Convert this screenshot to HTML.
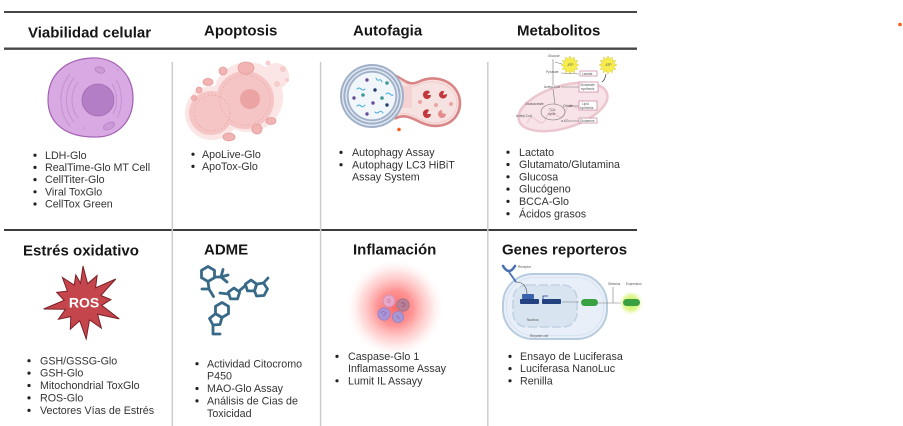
<!DOCTYPE html>
<html>
<head>
<meta charset="utf-8">
<style>
  html,body{margin:0;padding:0;background:#fff;}
  body{width:903px;height:426px;overflow:hidden;position:relative;}
  svg{position:absolute;left:0;top:0;}
  .h{font-family:"Liberation Sans",Arial,sans-serif;font-weight:bold;font-size:15px;fill:#161616;}
  .l{font-family:"Liberation Sans",Arial,sans-serif;font-size:10.7px;fill:#333;}
  .tiny{font-family:"Liberation Sans",Arial,sans-serif;font-size:3.2px;fill:#555;}
</style>
</head>
<body>
<svg width="903" height="426" viewBox="0 0 903 426" xmlns="http://www.w3.org/2000/svg">
  <defs>
    <radialGradient id="glow" cx="0.5" cy="0.5" r="0.5">
      <stop offset="0" stop-color="#ff5a5a" stop-opacity="0.9"/>
      <stop offset="0.35" stop-color="#ff7070" stop-opacity="0.75"/>
      <stop offset="0.7" stop-color="#ffa0a0" stop-opacity="0.35"/>
      <stop offset="1" stop-color="#ffffff" stop-opacity="0"/>
    </radialGradient>
    <radialGradient id="gglow" cx="0.5" cy="0.5" r="0.5">
      <stop offset="0" stop-color="#b8f040" stop-opacity="1"/>
      <stop offset="0.6" stop-color="#d6f570" stop-opacity="0.7"/>
      <stop offset="1" stop-color="#ffffff" stop-opacity="0"/>
    </radialGradient>
  </defs>

  <!-- grid lines -->
  <line x1="4" y1="12" x2="637" y2="12" stroke="#474747" stroke-width="2"/>
  <line x1="4" y1="48.7" x2="637" y2="48.7" stroke="#474747" stroke-width="2.3"/>
  <line x1="4" y1="230" x2="637" y2="230" stroke="#3c3c3c" stroke-width="2"/>
  <line x1="172.3" y1="62" x2="172.3" y2="426" stroke="#cccccc" stroke-width="1.5"/>
  <line x1="320.6" y1="62" x2="320.6" y2="426" stroke="#cccccc" stroke-width="1.5"/>
  <line x1="487.8" y1="62" x2="487.8" y2="426" stroke="#cccccc" stroke-width="1.5"/>

  <circle cx="900" cy="24.5" r="1.8" fill="#ff5b1a"/>

  <!-- headers -->
  <text class="h" x="28" y="37.3">Viabilidad celular</text>
  <text class="h" x="204" y="35.6">Apoptosis</text>
  <text class="h" x="353" y="35.6">Autofagia</text>
  <text class="h" x="517" y="35.6">Metabolitos</text>
  <text class="h" x="23" y="255.6">Estrés oxidativo</text>
  <text class="h" x="204" y="254.3">ADME</text>
  <text class="h" x="353" y="254.3">Inflamación</text>
  <text class="h" x="502" y="254.6">Genes reporteros</text>

  <!-- ===== Viability cell ===== -->
  <path d="M92,58 C116,57 133,75 133,98 C133,122 117,138 94,137 C68,137 48,125 48,100 C48,74 66,59 92,58 Z" fill="#d8a9e2" stroke="#a463b3" stroke-width="1.2"/>
  <g fill="none" stroke="#c592d1" stroke-width="1">
    <path d="M78,82 C70,92 70,108 78,118"/>
    <path d="M74,78 C64,90 64,110 74,122"/>
    <path d="M70,74 C58,88 58,112 70,126"/>
    <path d="M112,84 C118,92 118,106 113,114"/>
    <path d="M116,80 C123,90 123,108 117,118"/>
  </g>
  <ellipse cx="100" cy="70" rx="5" ry="3" fill="#cc9ad6" stroke="#b27fc1" stroke-width="0.7" transform="rotate(15 100 70)"/>
  <ellipse cx="109" cy="126" rx="6" ry="3.2" fill="#cc9ad6" stroke="#b27fc1" stroke-width="0.7" transform="rotate(-25 109 126)"/>
  <circle cx="98" cy="100" r="16" fill="#b37ec6" stroke="#a16db5" stroke-width="0.8"/>
  <circle cx="60" cy="96" r="0.9" fill="#c496cf"/>
  <circle cx="118" cy="70" r="0.9" fill="#c496cf"/>
  <circle cx="84" cy="128" r="0.9" fill="#c496cf"/>

  <!-- ===== Apoptosis ===== -->
  <g>
    <circle cx="248" cy="97" r="35" fill="#fbe5e5"/>
    <circle cx="212" cy="113" r="27" fill="#fbe5e5"/>
    <circle cx="276" cy="76" r="13" fill="#fbe5e5"/>
    <circle cx="245" cy="100" r="29" fill="#f5c4c4"/>
    <circle cx="211" cy="113" r="22" fill="#f5c4c4"/>
    <circle cx="245" cy="100" r="25" fill="none" stroke="#e7a2a2" stroke-width="0.7" stroke-dasharray="1.5 2"/>
    <circle cx="212" cy="113" r="18" fill="none" stroke="#e7a2a2" stroke-width="0.7" stroke-dasharray="1.5 2"/>
    <circle cx="250" cy="99" r="10" fill="#eca3a3"/>
    <g fill="#f2b3b3" stroke="#e59c9c" stroke-width="0.8">
      <ellipse cx="246" cy="68" rx="8" ry="6"/>
      <circle cx="223" cy="71" r="4"/>
      <ellipse cx="208" cy="82" rx="5" ry="3.6"/>
      <circle cx="199" cy="90" r="3"/>
      <ellipse cx="229" cy="137" rx="6" ry="4"/>
      <circle cx="257" cy="129" r="5"/>
      <ellipse cx="271" cy="121" rx="5" ry="3.5"/>
      <circle cx="194" cy="98" r="2.5"/>
    </g>
    <g fill="#f6cccc">
      <circle cx="277" cy="84" r="3"/>
      <circle cx="283" cy="69" r="3"/>
      <circle cx="268" cy="63" r="2.5"/>
      <circle cx="287" cy="80" r="2"/>
    </g>
  </g>

  <!-- ===== Autophagy ===== -->
  <g>
    <path d="M396,76 C404,80 410,86 418,82 C438,72 460,84 460,103 C460,122 440,132 420,122 C412,118 405,114 396,118 Z" fill="#f7e2e2" stroke="#d98585" stroke-width="2.6"/>
    <path d="M399,79 C406,83 411,89 418,85 C436,76 457,87 457,103 C457,119 439,129 420,119 C412,115 405,111 399,115" fill="none" stroke="#f3caca" stroke-width="1"/>
    <rect x="396" y="86" width="16" height="22" fill="#f5d3d3"/>
    <circle cx="372" cy="96" r="32" fill="#9fb0c8"/>
    <circle cx="372" cy="96" r="30" fill="#e2e9f2"/>
    <circle cx="372" cy="96" r="28.6" fill="#9fb0c8"/>
    <circle cx="372" cy="96" r="26.6" fill="#e2e9f2"/>
    <circle cx="372" cy="96" r="25.2" fill="#9fb0c8"/>
    <circle cx="372" cy="96" r="23.4" fill="#f1f6fb"/>
    <g fill="#6a4b99">
      <circle cx="367" cy="80" r="1.7"/><circle cx="354" cy="98" r="1.7"/>
      <circle cx="373" cy="103" r="1.7"/><circle cx="367" cy="114" r="1.7"/>
    </g>
    <g fill="#3c9a93">
      <circle cx="387" cy="83" r="1.8"/><circle cx="363" cy="95" r="1.8"/><circle cx="382" cy="98" r="1.8"/>
    </g>
    <g fill="#1f3f6d">
      <circle cx="375" cy="90" r="1.7"/><circle cx="387" cy="105" r="1.7"/>
    </g>
    <g fill="none" stroke="#3aa7d6" stroke-width="0.9" stroke-linecap="round">
      <path d="M357,89 q2,-2 4,0 t4,0"/>
      <path d="M376,78 q1,3 3,2 t3,2"/>
      <path d="M386,94 q2,-2 4,0 t3,1"/>
      <path d="M357,106 q2,-2 4,0 t4,-1"/>
      <path d="M375,112 q2,2 4,0 t4,1"/>
    </g>
    <g fill="#c1393c">
      <path d="M427,95 m-4,0 a4,4 0 1,0 8,0 l-4,0 l3,-3 a4,4 0 0,0 -7,3 Z"/>
      <path d="M443,95 m-4,0 a4,4 0 1,0 8,-1 l-4,1 l1,-4 a4,4 0 0,0 -5,4 Z"/>
      <path d="M427,114 m-4,0 a4,4 0 1,0 8,0 l-4,0 l2,-4 a4,4 0 0,0 -6,4 Z"/>
      <path d="M442,114 m-4,0 a4,4 0 1,0 8,0 l-4,-1 l0,-3 a4,4 0 0,0 -4,4 Z" fill="#e48d8d"/>
    </g>
    <g fill="#eaa4a4">
      <circle cx="420" cy="102" r="2"/><circle cx="436" cy="105" r="2"/><circle cx="451" cy="104" r="2"/>
    </g>
    <circle cx="399" cy="129.5" r="1.8" fill="#ff5a1a"/>
  </g>

  <!-- ===== Metabolites ===== -->
  <g>
    <ellipse cx="563" cy="107" rx="46" ry="21" transform="rotate(-17 563 107)" fill="#f7e3e8" stroke="#ecc6cf" stroke-width="2.5"/>
    <path d="M524,112 q6,-8 10,0 t10,0 t10,0 t10,0 t10,-2 t10,-4" fill="none" stroke="#efcdd5" stroke-width="1.5" transform="rotate(-17 563 107)"/>
    <g transform="translate(570,65)">
      <polygon points="0,-9 1.55,-5.8 4.5,-7.79 4.24,-4.24 7.79,-4.5 5.8,-1.55 9,0 5.8,1.55 7.79,4.5 4.24,4.24 4.5,7.79 1.55,5.8 0,9 -1.55,5.8 -4.5,7.79 -4.24,4.24 -7.79,4.5 -5.8,1.55 -9,0 -5.8,-1.55 -7.79,-4.5 -4.24,-4.24 -4.5,-7.79 -1.55,-5.8" fill="#f6ec4c" stroke="#d9c92a" stroke-width="0.5"/>
      <text class="tiny" x="-2.5" y="1">ATP</text>
    </g>
    <g transform="translate(608,65)">
      <polygon points="0,-9 1.55,-5.8 4.5,-7.79 4.24,-4.24 7.79,-4.5 5.8,-1.55 9,0 5.8,1.55 7.79,4.5 4.24,4.24 4.5,7.79 1.55,5.8 0,9 -1.55,5.8 -4.5,7.79 -4.24,4.24 -7.79,4.5 -5.8,1.55 -9,0 -5.8,-1.55 -7.79,-4.5 -4.24,-4.24 -4.5,-7.79 -1.55,-5.8" fill="#f6ec4c" stroke="#d9c92a" stroke-width="0.5"/>
      <text class="tiny" x="-2.5" y="1">ATP</text>
    </g>
    <path d="M606,74 q-1,6 -4,8" fill="none" stroke="#555" stroke-width="0.8"/>
    <g stroke="#777" stroke-width="0.6" fill="none">
      <line x1="553" y1="59" x2="553" y2="85"/>
      <line x1="555" y1="62" x2="562" y2="64"/>
      <line x1="561" y1="73" x2="579" y2="74"/>
      <line x1="561" y1="87" x2="579" y2="87"/>
      <line x1="569" y1="106" x2="579" y2="106"/>
      <line x1="579" y1="121" x2="568" y2="121"/>
      <ellipse cx="553" cy="112" rx="12" ry="8"/>
      <line x1="553" y1="89" x2="555" y2="104"/>
    </g>
    <g fill="#fff" stroke="#c9809c" stroke-width="0.7">
      <rect x="580" y="71" width="17" height="5"/>
      <rect x="579" y="82" width="19" height="10"/>
      <rect x="579" y="101" width="18" height="9"/>
      <rect x="579" y="118" width="18" height="5"/>
    </g>
    <text class="tiny" x="548" y="57">Glucose</text>
    <text class="tiny" x="546" y="73">Pyruvate</text>
    <text class="tiny" x="544" y="88">Acetyl-CoA</text>
    <text class="tiny" x="525" y="105">Oxaloacetate</text>
    <text class="tiny" x="563" y="107">Citrate</text>
    <text class="tiny" x="549" y="111">TCA</text>
    <text class="tiny" x="548" y="115">cycle</text>
    <text class="tiny" x="516" y="117">Acetyl-CoA</text>
    <text class="tiny" x="561" y="122">α-KG</text>
    <text class="tiny" x="582" y="75">Lactate</text>
    <text class="tiny" x="580" y="86">Glutamate</text>
    <text class="tiny" x="581" y="90">synthesis</text>
    <text class="tiny" x="582" y="105">Lipid</text>
    <text class="tiny" x="580" y="109">synthesis</text>
    <text class="tiny" x="580" y="122">Glutamine</text>
  </g>

  <!-- ===== ROS ===== -->
  <polygon points="83,266 87.6,283.6 97.1,275.5 95.6,287.8 115.8,279 100.9,295.5 110.9,299.6 101.7,305.3 119.3,318.9 97.6,314.2 101.4,328.2 89.5,319.9 86.2,338.9 79.7,320.7 70.3,329.2 70.8,316.6 58.4,319.2 65.4,309.3 43.6,309 64.1,300.3 56.7,292.4 67.4,291.1 62.4,277.5 74.2,285.1 75.8,274.9 80.5,283.2" fill="#c4454b" stroke="#7a2026" stroke-width="1"/>
  <text x="84" y="307.5" text-anchor="middle" font-family="Liberation Sans, Arial, sans-serif" font-weight="bold" font-size="14" fill="#fff">ROS</text>

  <!-- ===== ADME molecules ===== -->
  <g fill="none" stroke="#386a88" stroke-width="2.8" stroke-linecap="round" stroke-linejoin="round">
    <polygon points="208,266.5 214.5,270.3 214.5,277.7 208,281.5 201.5,277.7 201.5,270.3"/>
    <path d="M214.5,277 L221,277 M221,277 L223,269.5 M221,277 L227,282 M221,277 L228,275"/>
    <path d="M208,281.5 L209,289 L202,289 M209,289 L213.5,296.5"/>
    <path d="M220,293 L228,294"/>
    <polygon points="234,288 239.7,292.1 237.5,298.9 230.5,298.9 228.3,292.1"/>
    <path d="M239,291 L245.5,285.5"/>
    <polygon points="251,280 256.7,284.1 254.5,290.9 247.5,290.9 245.3,284.1"/>
    <polygon points="256.7,284.1 263.5,283 267.5,289 264,295.5 256.5,296 254.5,290.9"/>
    <path d="M263.5,283 L268,278"/>
    <polygon points="222,302.5 228.5,306.3 228.5,313.7 222,317.5 215.5,313.7 215.5,306.3"/>
    <polygon points="215.5,313.7 222,317.5 220,324.5 213,325 209.5,318.5"/>
    <path d="M213,325 L213,334 L220,334"/>
  </g>

  <!-- ===== Inflammation ===== -->
  <circle cx="395" cy="308" r="50" fill="url(#glow)"/>
  <g stroke-width="0.8">
    <circle cx="389" cy="301" r="6" fill="#e7a7c8" stroke="#d08fb3"/>
    <circle cx="403" cy="305" r="6.2" fill="#b88098" stroke="#9f6c84"/>
    <circle cx="384" cy="314" r="6.2" fill="#ab94d6" stroke="#9680c4"/>
    <circle cx="398" cy="317" r="5.6" fill="#a997d4" stroke="#9682c2"/>
    <path d="M387,299 q3,0 3,3 q-2,1 -3,-1" fill="none" stroke="#c77aa0"/>
    <path d="M401,303 q3,-1 4,2 q-1,2 -3,1" fill="none" stroke="#8c5a70"/>
    <path d="M381,313 q2,-3 5,0 q-1,3 -3,2" fill="none" stroke="#8470b8"/>
    <path d="M396,316 q3,0 3,3" fill="none" stroke="#8470b8"/>
  </g>

  <!-- ===== Reporter genes ===== -->
  <g>
    <rect x="503" y="274" width="104" height="65" rx="30" fill="#e8eff8" stroke="#b8cce0" stroke-width="2"/>
    <rect x="506.5" y="277.5" width="97" height="58" rx="27" fill="none" stroke="#d3e0ee" stroke-width="0.8"/>
    <rect x="513" y="285" width="64" height="42" rx="14" fill="#d9e4f1" stroke="#bfd1e3" stroke-width="1.5" stroke-dasharray="9 3"/>
    <path d="M503,266 Q509,276 515,266" fill="none" stroke="#4a6fb3" stroke-width="2.6" stroke-linecap="round"/>
    <line x1="509" y1="272" x2="516" y2="282" stroke="#4a6fb3" stroke-width="1.8"/>
    <path d="M516,282 C524,282 527,288 527,294" fill="none" stroke="#444" stroke-width="0.6"/>
    <rect x="522" y="294" width="12" height="5" rx="1" fill="#3b63ad"/>
    <rect x="520" y="299" width="19" height="5" rx="1" fill="#24427f"/>
    <rect x="542" y="299" width="19" height="5" rx="1" fill="#24427f"/>
    <path d="M543,299 L543,296 L548,296" fill="none" stroke="#24427f" stroke-width="0.8"/>
    <line x1="562" y1="302" x2="579" y2="302" stroke="#777" stroke-width="0.6"/>
    <rect x="581" y="299" width="17" height="7" rx="3.5" fill="#3aa142"/>
    <line x1="598" y1="303" x2="621" y2="303" stroke="#777" stroke-width="0.6"/>
    <line x1="613" y1="287" x2="613" y2="303" stroke="#777" stroke-width="0.6"/>
    <circle cx="631" cy="303" r="13" fill="url(#gglow)"/>
    <rect x="623" y="299" width="17" height="7" rx="3.5" fill="#3aa142"/>
    <text class="tiny" x="518" y="268">Receptor</text>
    <text class="tiny" x="608" y="285">Stimulus</text>
    <text class="tiny" x="626" y="285">Expression</text>
    <text class="tiny" x="527" y="321" fill="#8a9ab0">Nucleus</text>
    <text class="tiny" x="530" y="337" fill="#8a9ab0">Reporter cell</text>
  </g>

  <!-- ===== Lists ===== -->
  <g fill="#222">
    <circle cx="35" cy="155.2" r="1.6"/><circle cx="35" cy="167.4" r="1.6"/><circle cx="35" cy="179.6" r="1.6"/><circle cx="35" cy="191.8" r="1.6"/><circle cx="35" cy="204" r="1.6"/>
    <circle cx="193" cy="154.2" r="1.6"/><circle cx="193" cy="166.4" r="1.6"/>
    <circle cx="341" cy="152.4" r="1.6"/><circle cx="341" cy="164.7" r="1.6"/>
    <circle cx="508" cy="152.2" r="1.6"/><circle cx="508" cy="164.5" r="1.6"/><circle cx="508" cy="176.8" r="1.6"/><circle cx="508" cy="189.1" r="1.6"/><circle cx="508" cy="201.4" r="1.6"/><circle cx="508" cy="213.7" r="1.6"/>
    <circle cx="29" cy="360.7" r="1.6"/><circle cx="29" cy="373.1" r="1.6"/><circle cx="29" cy="385.5" r="1.6"/><circle cx="29" cy="397.9" r="1.6"/><circle cx="29" cy="410.4" r="1.6"/>
    <circle cx="197" cy="363.7" r="1.6"/><circle cx="197" cy="388.5" r="1.6"/><circle cx="197" cy="400.9" r="1.6"/>
    <circle cx="337" cy="356.4" r="1.6"/><circle cx="337" cy="380.8" r="1.6"/>
    <circle cx="510" cy="356.4" r="1.6"/><circle cx="510" cy="368.6" r="1.6"/><circle cx="510" cy="380.8" r="1.6"/>
  </g>

  <text class="l" x="45" y="158.8">LDH-Glo</text>
  <text class="l" x="45" y="171">RealTime-Glo MT Cell</text>
  <text class="l" x="45" y="183.2">CellTiter-Glo</text>
  <text class="l" x="45" y="195.4">Viral ToxGlo</text>
  <text class="l" x="45" y="207.6">CellTox Green</text>

  <text class="l" x="202" y="157.8">ApoLive-Glo</text>
  <text class="l" x="202" y="170">ApoTox-Glo</text>

  <text class="l" x="352" y="156">Autophagy Assay</text>
  <text class="l" x="352" y="168.3">Autophagy LC3 HiBiT</text>
  <text class="l" x="352" y="180.6">Assay System</text>

  <text class="l" x="519" y="155.8">Lactato</text>
  <text class="l" x="519" y="168.1">Glutamato/Glutamina</text>
  <text class="l" x="519" y="180.4">Glucosa</text>
  <text class="l" x="519" y="192.7">Glucógeno</text>
  <text class="l" x="519" y="205">BCCA-Glo</text>
  <text class="l" x="519" y="217.3">Ácidos grasos</text>

  <text class="l" x="40" y="364.3">GSH/GSSG-Glo</text>
  <text class="l" x="40" y="376.7">GSH-Glo</text>
  <text class="l" x="40" y="389.1">Mitochondrial ToxGlo</text>
  <text class="l" x="40" y="401.5">ROS-Glo</text>
  <text class="l" x="40" y="414">Vectores Vías de Estrés</text>

  <text class="l" x="207" y="367.3">Actividad Citocromo</text>
  <text class="l" x="207" y="379.7">P450</text>
  <text class="l" x="207" y="392.1">MAO-Glo Assay</text>
  <text class="l" x="207" y="404.5">Análisis de Cias de</text>
  <text class="l" x="207" y="417">Toxicidad</text>

  <text class="l" x="348" y="360">Caspase-Glo 1</text>
  <text class="l" x="348" y="372.2">Inflamassome Assay</text>
  <text class="l" x="348" y="384.4">Lumit IL Assayy</text>

  <text class="l" x="520" y="360">Ensayo de Luciferasa</text>
  <text class="l" x="520" y="372.2">Luciferasa NanoLuc</text>
  <text class="l" x="520" y="384.4">Renilla</text>
</svg>
</body>
</html>
